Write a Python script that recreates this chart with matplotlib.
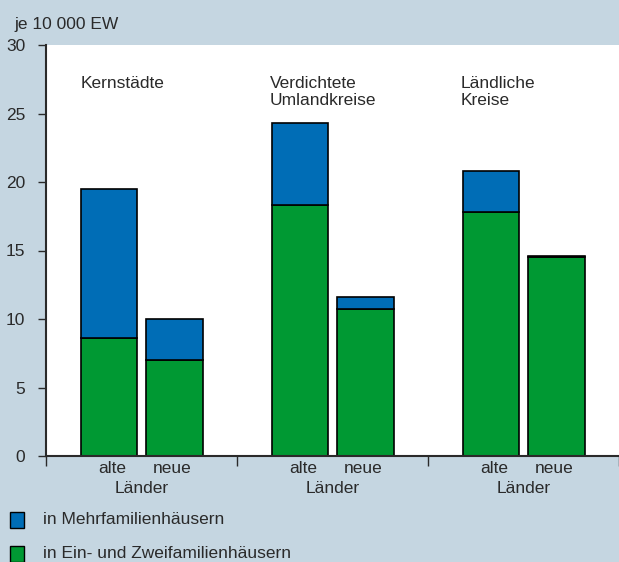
import matplotlib.pyplot as plt
from matplotlib.patches import Rectangle

plt.rcParams['font.family'] = ['Liberation Sans', 'DejaVu Sans']

gruppen = ["Kernstädte", "Verdichtete\nUmlandkreise", "Ländliche\nKreise"]
laender = ["alte", "neue"]
ein_zwei = [8.6, 7.0, 18.3, 10.7, 17.8, 14.5]     # in Ein- und Zweifamilienhäusern
mehr = [10.9, 3.0, 6.0, 0.9, 3.0, 0.1]           # in Mehrfamilienhäusern

bg = "#c5d6e1"
blau = "#006db6"
gruen = "#009933"
tc = "#2a2a2a"
fs = 12.5

fig = plt.figure(figsize=(6.19, 5.62), dpi=100, facecolor=bg)
ax = fig.add_axes([46/619, 106/562, 573/619, 411/562])
ax.set_facecolor("white")

x = []
for i in range(len(gruppen)):
    x += [i + 0.33, i + 0.675]
breite = 0.298

ax.bar(x, ein_zwei, width=breite, color=gruen, edgecolor="black", linewidth=1.2)
ax.bar(x, mehr, bottom=ein_zwei, width=breite, color=blau, edgecolor="black", linewidth=1.2)

ax.set_xlim(0, 3)
ax.set_ylim(0, 30)
ax.set_yticks(range(0, 31, 5))
ax.set_xticks([0, 1, 2, 3])
ax.set_xticklabels([])
ax.tick_params(axis="y", length=6, width=1, labelsize=fs, pad=9, color=tc, labelcolor=tc)
ax.tick_params(axis="x", length=7, width=1, direction="out", color=tc)
for s in ["top", "right"]:
    ax.spines[s].set_visible(False)
for s in ["left", "bottom"]:
    ax.spines[s].set_linewidth(1.5)
    ax.spines[s].set_color(tc)

# Gruppentitel im Diagramm
titel_x = [0.18, 1.17, 2.17]
for i, t in enumerate(gruppen):
    ax.text(titel_x[i], 27.75, t, fontsize=fs, va="top", ha="left", color=tc,
            linespacing=1.2)

# Beschriftung unter der Achse
for i in range(len(gruppen)):
    for j, l in enumerate(laender):
        ax.text(x[2*i + j] + 0.015 * (1 - 2*j), -0.35, l, fontsize=fs, ha="center",
                va="top", color=tc, clip_on=False)
    ax.text(i + 0.5, -1.8, "Länder", fontsize=fs, ha="center", va="top",
            color=tc, clip_on=False)

fig.text(14/619, 1 - 25/562, "je 10 000 EW", fontsize=fs, va="center", ha="left",
         color=tc)

# Legende
fig.patches.append(Rectangle((10/619, 1 - 528/562), 14/619, 16/562, transform=fig.transFigure,
                             facecolor=blau, edgecolor="black", linewidth=1))
fig.patches.append(Rectangle((10/619, 1 - 562/562), 14/619, 16/562, transform=fig.transFigure,
                             facecolor=gruen, edgecolor="black", linewidth=1))
fig.text(43/619, 1 - 519/562, "in Mehrfamilienhäusern", fontsize=fs, va="center",
         color=tc)
fig.text(43/619, 1 - 553/562, "in Ein- und Zweifamilienhäusern", fontsize=fs,
         va="center", color=tc)

fig.savefig("out.png", dpi=100, facecolor=bg)
